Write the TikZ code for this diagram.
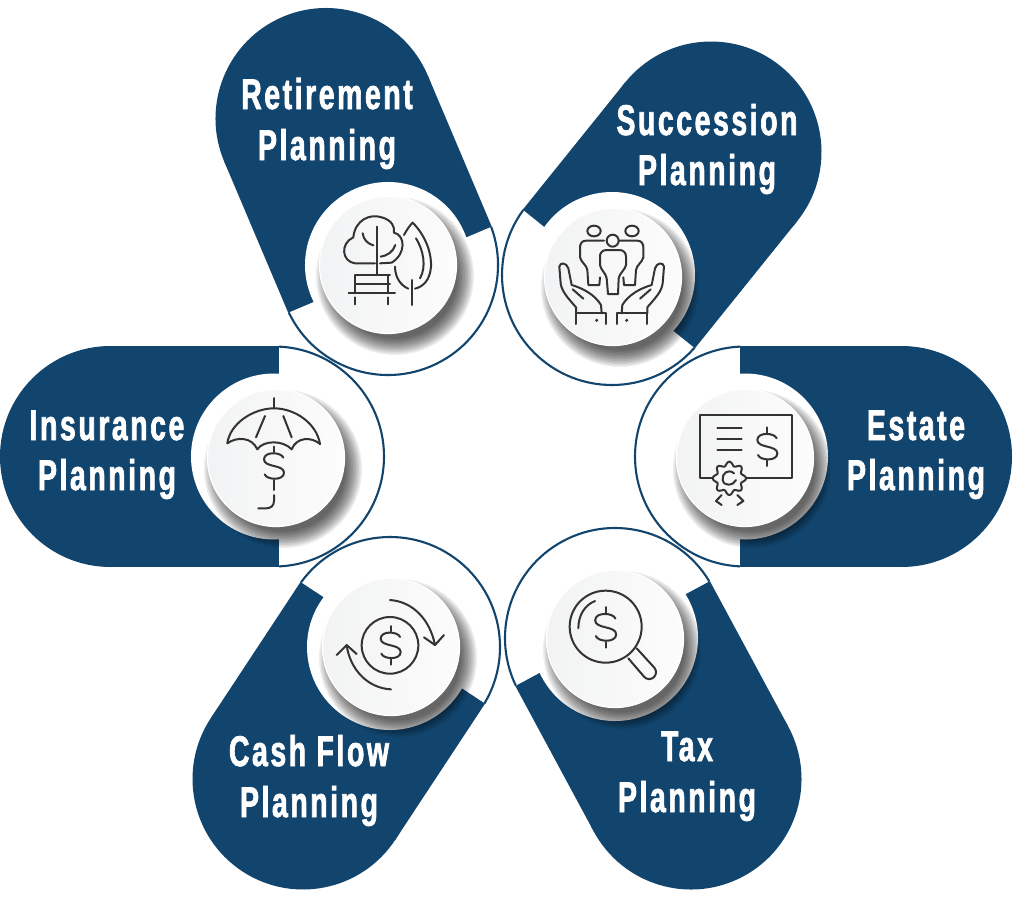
\documentclass[tikz,border=0pt]{standalone}
\usepackage{fontspec}
\newfontfamily\lab[FakeStretch=0.66,LetterSpace=6,FakeBold=1.6]{Liberation Sans Bold}
\definecolor{pblue}{HTML}{12456E}
\definecolor{iconc}{HTML}{333333}
\definecolor{discA}{HTML}{F2F3F4}
\definecolor{discB}{HTML}{FCFCFC}
\tikzset{
  lbl/.style={text=white,anchor=base,inner sep=0pt,font=\lab\fontsize{43}{50}\selectfont},
  ico/.style={draw=iconc,line width=2pt,line cap=round,line join=round,fill=none},
  outl/.style={draw=pblue,line width=2.1pt}
}
\newcommand{\petalshape}[4]{%
  \pgfmathsetmacro{\pang}{atan2(-(#4-#2),#3-#1)}%
  \pgfmathsetmacro{\plen}{veclen(#3-#1,#4-#2)}%
  \begin{scope}[shift={(#1,#2)},rotate=\pang]
    \fill[pblue] (-5,-110.5) rectangle (\plen,110.5);
    \fill[pblue] (\plen,0) circle (110.5);
    \fill[white] (0,0) circle (83);
    \begin{scope}
      \clip (-300,-300) rectangle (-5,300);
      \draw[outl] (0,0) circle (110);
    \end{scope}
  \end{scope}}
\newcommand{\discshape}[2]{%
  \begin{scope}[shift={(#1,#2)}]
    \foreach \rr in {79,77.5,76,74.5,73,71.5,70,68.5,67,65.5,64,62.5}{
      \fill[black,opacity=0.07] (7,11) circle (\rr);}
    \shade[left color=discA,right color=discB] (0,0) circle (68.5);
    \draw[white,line width=1.2pt] (0,0) circle (68.5);
  \end{scope}}
\newcommand{\dollarsign}[3]{%
  \begin{scope}[shift={(#1,#2)},scale=#3]
    \draw[ico] (28,-25) .. controls (22,-42) and (-30,-45) .. (-30,-20)
      .. controls (-30,5) and (30,-5) .. (30,20)
      .. controls (30,45) and (-22,42) .. (-28,25);
    \draw[ico] (0,-58) -- (0,-42) (0,42) -- (0,58);
  \end{scope}}
\begin{document}
\begin{tikzpicture}[x=1pt,y=-1pt]
\useasboundingbox (0,0) rectangle (1024,910);
\fill[white] (0,0) rectangle (1024,910);
\petalshape{388}{265}{326}{118.5}
\petalshape{612}{275}{711}{152}
\petalshape{745}{456.5}{901.5}{456.5}
\petalshape{615}{638}{691}{779}
\petalshape{390}{647}{303}{779}
\petalshape{274}{456.5}{110.5}{456.5}
\discshape{388}{265}
\discshape{613}{277}
\discshape{745}{458}
\discshape{615}{639}
\discshape{391}{647}
\discshape{276}{458}
% Retirement icon
\begin{scope}[shift={(200,0)},x=.33333pt,y=-.33333pt]
  \draw[ico] (525,790) -- (465,790) .. controls (425,785) and (420,730) .. (460,712)
    .. controls (465,660) and (510,640) .. (545,652) .. controls (575,660) and (585,680) .. (582,698)
    .. controls (615,705) and (620,760) .. (575,788) -- (540,790);
  \draw[ico] (532,680) -- (532,822);
  \draw[ico] (488,700) .. controls (490,720) and (505,732) .. (520,736);
  \draw[ico] (586,735) .. controls (580,755) and (560,768) .. (542,770);
  \draw[ico] (612,705) .. controls (620,690) and (630,675) .. (638,668)
    .. controls (670,700) and (695,750) .. (693,800) .. controls (690,840) and (670,860) .. (645,866);
  \draw[ico] (648,715) .. controls (670,750) and (680,800) .. (660,835);
  \draw[ico] (585,800) .. controls (585,835) and (605,858) .. (625,866);
  \draw[ico] (635,840) -- (635,915);
  \draw[ico] (446,880) -- (585,880);
  \draw[ico] (465,826) -- (570,826) (465,852) -- (570,852);
  \draw[ico] (465,826) -- (465,880) (565,826) -- (565,880);
  \draw[ico] (465,892) -- (465,913) (565,892) -- (565,913);
\end{scope}
% Succession icon
\begin{scope}[shift={(500,170)},x=.33333pt,y=-.33333pt]
  \draw[ico] (282,183) ellipse [x radius=20,y radius=16];
  \draw[ico] (396,183) ellipse [x radius=20,y radius=16];
  \draw[ico] (338,212) ellipse [x radius=18,y radius=18];
  \draw[ico] (300,255) .. controls (303,245) and (310,240) .. (320,240) -- (358,240)
    .. controls (370,240) and (378,248) .. (378,260) -- (378,285) .. controls (375,300) and (358,310) .. (356,325)
    -- (354,372) -- (324,372) -- (320,325) .. controls (318,310) and (302,300) .. (300,285) -- cycle;
\end{scope}
\foreach \sx/\orgx in {.33333/500,-.33333/723.33}{
\begin{scope}[shift={(\orgx,170)},x=\sx pt,y=-.33333pt]
  \draw[ico] (312,212) -- (258,212) .. controls (245,212) and (240,222) .. (240,232) -- (240,262)
    .. controls (244,278) and (260,285) .. (262,300) -- (265,345) -- (298,345) -- (300,322);
  \draw[ico] (228,462) -- (228,430) -- (318,430) -- (318,462);
  \draw[ico] (228,430) -- (228,412) .. controls (205,385) and (185,365) .. (182,340) -- (178,290)
    .. controls (180,275) and (200,278) .. (205,295) -- (215,345)
    .. controls (250,355) and (285,375) .. (303,405) -- (305,430);
  \draw[ico] (218,358) -- (250,386);
  \fill[iconc] (290,451) circle (5);
\end{scope}}
% Estate icon
\begin{scope}[shift={(630,340)},x=.33333pt,y=-.33333pt]
  \draw[ico] (248,415) -- (210,415) -- (210,226) -- (485,226) -- (485,415) -- (350,415);
  \draw[ico] (262,265) -- (335,265) (262,297) -- (335,297) (262,329) -- (335,329);
  \dollarsign{412}{320}{1}
  \draw[ico] plot[domain=0:360,samples=97,smooth] ({298+(44+6*cos(8*\x))*cos(\x)},{415+(44+6*cos(8*\x))*sin(\x)}) -- cycle;
  \draw[ico] (312,400) .. controls (295,385) and (275,400) .. (278,420) .. controls (282,440) and (310,438) .. (318,420);
  \draw[ico] (275,465) -- (258,483) -- (275,495);
  \draw[ico] (322,465) -- (340,483) -- (322,495);
\end{scope}
% Insurance icon
\begin{scope}[shift={(180,340)},x=.33333pt,y=-.33333pt]
  \draw[ico] (282,174) -- (282,205);
  \draw[ico] (142,310) .. controls (150,250) and (220,205) .. (282,205) .. controls (345,205) and (410,250) .. (420,312);
  \draw[ico] (142,310) .. controls (170,290) and (215,290) .. (232,328) .. controls (250,300) and (310,300) .. (335,328) .. controls (350,290) and (395,290) .. (420,312);
  \draw[ico] (255,228) -- (228,292) (310,228) -- (335,292);
  \dollarsign{282}{378}{1}
  \draw[ico] (282,436) -- (282,450);
  \draw[ico] (282,465) -- (282,482) .. controls (282,498) and (272,505) .. (258,505) -- (235,505);
\end{scope}
% Tax icon
\begin{scope}[shift={(500,525)},x=.33333pt,y=-.33333pt]
  \draw[ico] (317,305) circle (108);
  \draw[ico] (235,310) .. controls (235,270) and (255,240) .. (285,228);
  \dollarsign{317}{307}{1.05}
  \draw[ico] (385,400) -- (432,455) .. controls (450,475) and (480,450) .. (463,428) -- (410,370);
\end{scope}
% Cash flow icon
\begin{scope}[shift={(290,530)},x=.33333pt,y=-.33333pt]
  \draw[ico] (300,346) circle (85);
  \dollarsign{302}{346}{1}
  \draw[ico] (300,210) .. controls (370,215) and (420,270) .. (435,345);
  \draw[ico] (402,322) -- (435,345) -- (462,315);
  \draw[ico] (303,478) .. controls (235,475) and (180,420) .. (170,345);
  \draw[ico] (140,375) -- (170,345) -- (200,372);
\end{scope}
% Labels
\node[lbl] (r1) at (327,109) {Retirement};
\node[lbl] (r2) at (327,160) {Planning};
\node[lbl] (s1) at (707,135) {Succession};
\node[lbl] (s2) at (707,185) {Planning};
\node[lbl] (e1) at (916,440) {Estate};
\node[lbl] (e2) at (916,490) {Planning};
\node[lbl] (i1) at (107,440) {Insurance};
\node[lbl] (i2) at (107,490) {Planning};
\node[lbl] (t1) at (687,761) {Tax};
\node[lbl] (t2) at (687,812) {Planning};
\node[lbl] (c1) at (309,766) {Cash Flow};
\node[lbl] (c2) at (309,817) {Planning};
\end{tikzpicture}
\end{document}
